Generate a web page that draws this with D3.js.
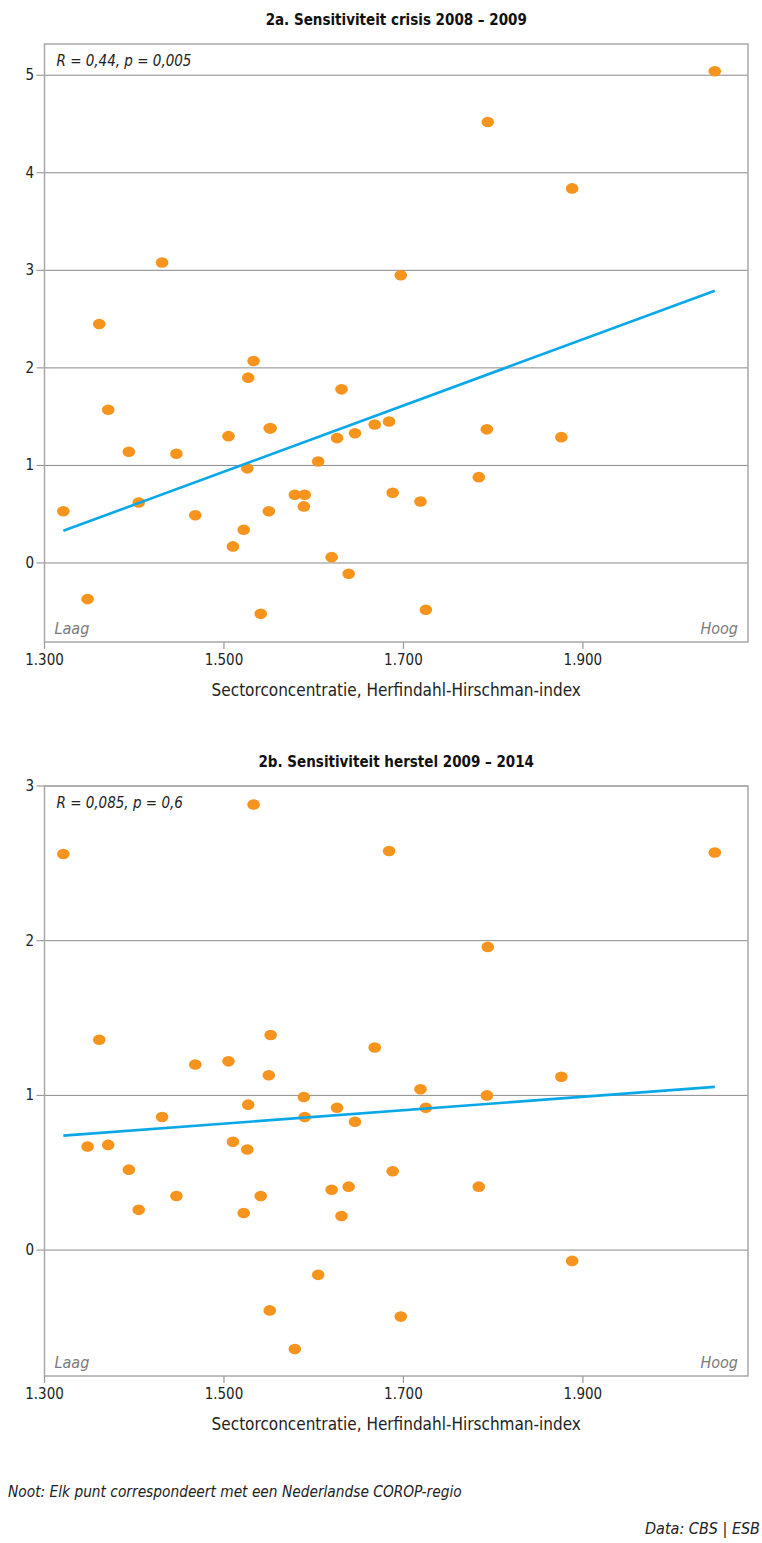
<!DOCTYPE html>
<html>
<head>
<meta charset="utf-8">
<script src="https://cdn.jsdelivr.net/npm/d3@7"></script>
<style>
  body { margin: 0; background: #fff; }
  text { font-family: "Liberation Sans Narrow", "DejaVu Sans Condensed", "Open Sans", sans-serif; fill: #222; }
</style>
</head>
<body>
<svg id="chart" width="762" height="1543"></svg>
<script>
// sectorconcentratie (HHI) per COROP-regio, zelfde volgorde in beide panelen
var hhi = [1321, 1348, 1361, 1371, 1394, 1405, 1431, 1447, 1468, 1505,
           1510, 1522, 1526, 1527, 1533, 1541, 1550, 1551, 1552, 1579,
           1589, 1590, 1605, 1620, 1626, 1631, 1639, 1646, 1668, 1684,
           1688, 1697, 1719, 1725, 1784, 1793, 1794, 1876, 1888, 2047];

// 2a: sensitiviteit crisis 2008-2009
var crisis = [0.53, -0.37, 2.45, 1.57, 1.14, 0.62, 3.08, 1.12, 0.49, 1.30,
              0.17, 0.34, 0.97, 1.90, 2.07, -0.52, 0.53, 1.38, 1.38, 0.70,
              0.58, 0.70, 1.04, 0.06, 1.28, 1.78, -0.11, 1.33, 1.42, 1.45,
              0.72, 2.95, 0.63, -0.48, 0.88, 1.37, 4.52, 1.29, 3.84, 5.04];

// 2b: sensitiviteit herstel 2009-2014
var herstel = [2.56, 0.67, 1.36, 0.68, 0.52, 0.26, 0.86, 0.35, 1.20, 1.22,
               0.70, 0.24, 0.65, 0.94, 2.88, 0.35, 1.13, -0.39, 1.39, -0.64,
               0.99, 0.86, -0.16, 0.39, 0.92, 0.22, 0.41, 0.83, 1.31, 2.58,
               0.51, -0.43, 1.04, 0.92, 0.41, 1.00, 1.96, 1.12, -0.07, 2.57];

// regressielijnen (begin- en eindpunt)
var trendCrisis = [[1321, 0.33], [2047, 2.79]];
var trendHerstel = [[1321, 0.74], [2047, 1.055]];

var xTicks = [1300, 1500, 1700, 1900];
var yTicksCrisis = [0, 1, 2, 3, 4, 5];
var yTicksHerstel = [0, 1, 2, 3];

var svg = d3.select("#chart");
var nl = d3.formatLocale({decimal: ",", thousands: ".", grouping: [3], currency: ["€", ""]});
var fmtX = nl.format(",");

var left = 44.5, right = 748;
var x = d3.scaleLinear().domain([1300, 2084]).range([left, right]);

function panel(cfg) {
  var y = d3.scaleLinear().domain(cfg.yDomain).range([cfg.bottom, cfg.top]);
  var g = svg.append("g");

  // titel
  g.append("text")
    .attr("x", (left + right) / 2).attr("y", cfg.top - 19)
    .attr("text-anchor", "middle")
    .style("font-size", "15px").style("font-weight", "bold").style("fill", "#111")
    .text(cfg.title);

  // horizontale rasterlijnen
  g.selectAll("line.grid").data(cfg.yTicks).enter().append("line")
    .attr("x1", left - 8).attr("x2", right)
    .attr("y1", function(d) { return y(d); })
    .attr("y2", function(d) { return y(d); })
    .style("stroke", "#8a8a8a").style("stroke-width", 1);

  g.selectAll("text.ylab").data(cfg.yTicks).enter().append("text")
    .attr("x", 34).attr("y", function(d) { return y(d) + 5; })
    .attr("text-anchor", "end")
    .style("font-size", "15px")
    .text(function(d) { return d; });

  // kader
  g.append("rect")
    .attr("x", left).attr("y", cfg.top)
    .attr("width", right - left).attr("height", cfg.bottom - cfg.top)
    .style("fill", "none").style("stroke", "#a8a8a8").style("stroke-width", 1.5);

  // x-as
  g.selectAll("line.xtick").data(xTicks).enter().append("line")
    .attr("x1", function(d) { return x(d); })
    .attr("x2", function(d) { return x(d); })
    .attr("y1", cfg.bottom).attr("y2", cfg.bottom + 7)
    .style("stroke", "#999").style("stroke-width", 1.2);

  g.selectAll("text.xlab").data(xTicks).enter().append("text")
    .attr("x", function(d) { return x(d); })
    .attr("y", cfg.bottom + 23)
    .attr("text-anchor", "middle")
    .style("font-size", "15px")
    .text(function(d) { return fmtX(d); });

  g.append("text")
    .attr("x", (left + right) / 2).attr("y", cfg.bottom + 54)
    .attr("text-anchor", "middle")
    .style("font-size", "17px")
    .text("Sectorconcentratie, Herfindahl-Hirschman-index");

  // annotaties
  g.append("text")
    .attr("x", left + 12).attr("y", cfg.top + 22)
    .style("font-size", "15px").style("font-style", "italic")
    .text(cfg.stat);

  g.append("text")
    .attr("x", left + 10).attr("y", cfg.bottom - 8)
    .style("font-size", "16px").style("font-style", "italic").style("fill", "#7a7a7a")
    .text("Laag");

  g.append("text")
    .attr("x", right - 10).attr("y", cfg.bottom - 8)
    .attr("text-anchor", "end")
    .style("font-size", "16px").style("font-style", "italic").style("fill", "#7a7a7a")
    .text("Hoog");

  // punten
  g.selectAll("ellipse").data(cfg.values).enter().append("ellipse")
    .attr("cx", function(d, i) { return x(hhi[i]); })
    .attr("cy", function(d) { return y(d); })
    .attr("rx", 6.3).attr("ry", 5.3)
    .style("fill", "#f7941d");

  // trendlijn
  var line = d3.line()
    .x(function(d) { return x(d[0]); })
    .y(function(d) { return y(d[1]); });
  g.append("path")
    .datum(cfg.trend)
    .attr("d", line)
    .style("fill", "none").style("stroke", "#0aa8e8").style("stroke-width", 2.6);
}

panel({
  title: "2a. Sensitiviteit crisis 2008 – 2009",
  stat: "R = 0,44, p = 0,005",
  top: 44, bottom: 642,
  yDomain: [-0.81, 5.32],
  yTicks: yTicksCrisis,
  values: crisis,
  trend: trendCrisis
});

panel({
  title: "2b. Sensitiviteit herstel 2009 – 2014",
  stat: "R = 0,085, p = 0,6",
  top: 786, bottom: 1376,
  yDomain: [-0.814, 3],
  yTicks: yTicksHerstel,
  values: herstel,
  trend: trendHerstel
});

svg.append("text")
  .attr("x", 8).attr("y", 1497)
  .style("font-size", "15.3px").style("font-style", "italic")
  .text("Noot: Elk punt correspondeert met een Nederlandse COROP-regio");

svg.append("text")
  .attr("x", 760).attr("y", 1534)
  .attr("text-anchor", "end")
  .style("font-size", "16px").style("font-style", "italic")
  .text("Data: CBS | ESB");
</script>
</body>
</html>
